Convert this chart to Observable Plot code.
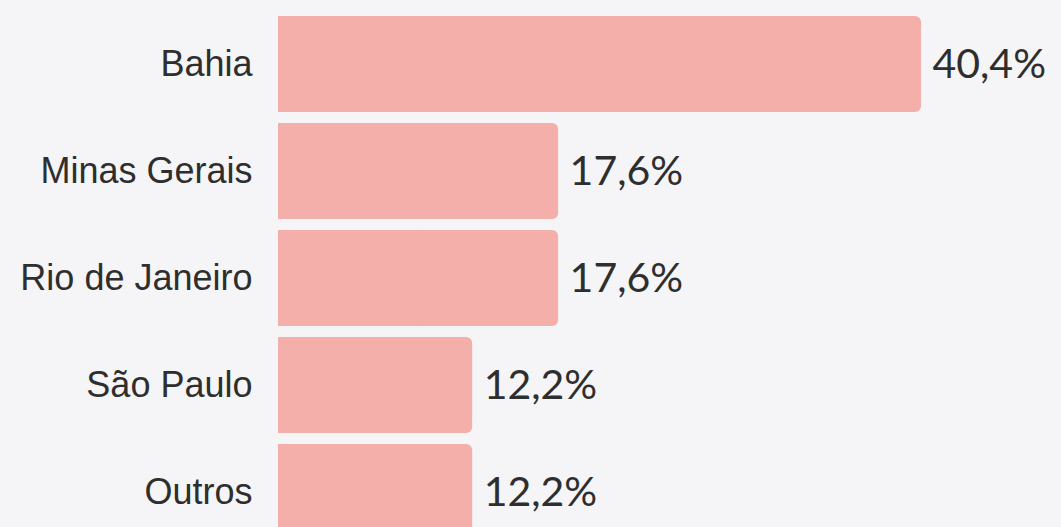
<!DOCTYPE html>
<html>
<head>
<meta charset="utf-8">
<script src="https://cdn.jsdelivr.net/npm/d3@7"></script>
<script src="https://cdn.jsdelivr.net/npm/@observablehq/plot@0.6"></script>
<style>
  html, body { margin: 0; padding: 0; background: #f5f5f7; overflow: hidden; }
  #chart svg { display: block; }
</style>
</head>
<body>
<div id="chart"></div>
<script>
const states = ["Bahia", "Minas Gerais", "Rio de Janeiro", "São Paulo", "Outros"];
const shares = [40.4, 17.6, 17.6, 12.2, 12.2];
const valueLabels = ["40,4%", "17,6%", "17,6%", "12,2%", "12,2%"];

const data = states.map((s, i) => ({state: s, value: shares[i], label: valueLabels[i]}));
const barColor = "#f4afab";

const chart = Plot.plot({
  width: 1061,
  height: 555,
  marginLeft: 278,
  marginRight: 140,
  marginTop: 0,
  marginBottom: 0,
  style: {background: "#f5f5f7", color: "#2e2e2e"},
  x: {domain: [0, 40.4], axis: null},
  y: {domain: states, paddingInner: 0.105, paddingOuter: 0.14, label: null},
  marks: [
    Plot.barX(data, {x: "value", y: "state", fill: barColor, rx: 6}),
    Plot.barX(data, {x1: 0, x2: d => d.value / 2, y: "state", fill: barColor}),
    Plot.text(data, {x: "value", y: "state", text: "label", textAnchor: "start", dx: 11,
      fontSize: 41, fontFamily: "Lato", fill: "#2e2e2e", style: "letter-spacing:1.2px"}),
    Plot.axisY({tickSize: 0, tickPadding: 26, fontSize: 36, fontFamily: "Liberation Sans", label: null})
  ]
});
document.getElementById("chart").appendChild(chart);
</script>
</body>
</html>
